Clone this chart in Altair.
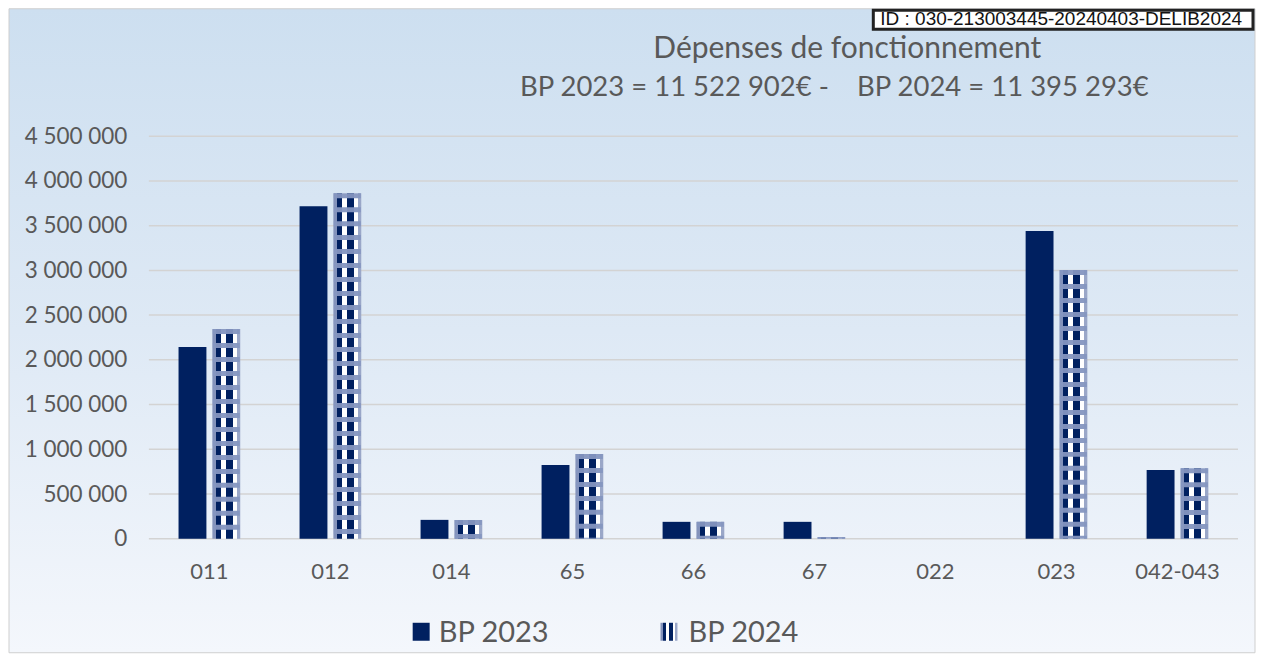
import altair as alt
import pandas as pd

# ---------------- data ----------------
categories = ["011", "012", "014", "65", "66", "67", "022", "023", "042-043"]
bp2023 = [2145000, 3718000, 212000, 826000, 190000, 190000, 0, 3439000, 770000]
bp2024 = [2345000, 3863000, 210000, 949000, 190000, 20000, 0, 3004000, 790000]
series = ["BP 2023", "BP 2024"]
y_ticks = [0, 500000, 1000000, 1500000, 2000000, 2500000, 3000000, 3500000, 4000000, 4500000]
title_line1 = "Dépenses de fonctionnement"
title_line2 = "BP 2023 = 11 522 902€ -\u00a0\u00a0\u00a0 BP 2024 = 11 395 293€"
stamp_text = "ID : 030-213003445-20240403-DELIB2024_30"

rows = []
for c, a, b in zip(categories, bp2023, bp2024):
    rows.append({"cat": c, "series": series[0], "value": a})
    rows.append({"cat": c, "series": series[1], "value": b})
df = pd.DataFrame(rows)
ticks_df = pd.DataFrame({"value": y_ticks})
one = pd.DataFrame({"k": [0]})

# ---------------- styles ----------------
W, H = 1090, 403
NAVY = "#002060"
GREY = "#595959"
FONT = "Lato"

pattern = alt.LinearGradient(
    gradient="linear", x1=0, x2=1, y1=0, y2=0,
    stops=[
        alt.GradientStop(offset=0, color="#8493bb"),
        alt.GradientStop(offset=0.12, color="#8493bb"),
        alt.GradientStop(offset=0.12, color=NAVY),
        alt.GradientStop(offset=0.31, color=NAVY),
        alt.GradientStop(offset=0.31, color="#ffffff"),
        alt.GradientStop(offset=0.5, color="#ffffff"),
        alt.GradientStop(offset=0.5, color=NAVY),
        alt.GradientStop(offset=0.74, color=NAVY),
        alt.GradientStop(offset=0.74, color="#ffffff"),
        alt.GradientStop(offset=0.87, color="#ffffff"),
        alt.GradientStop(offset=0.87, color="#9aa7c8"),
        alt.GradientStop(offset=1, color="#9aa7c8"),
    ],
)

bg_grad = alt.LinearGradient(
    gradient="linear", x1=0, x2=0, y1=0, y2=1,
    stops=[
        alt.GradientStop(offset=0, color="#cddff0"),
        alt.GradientStop(offset=0.5, color="#dee9f5"),
        alt.GradientStop(offset=1, color="#f4f7fc"),
    ],
)

x_scale = alt.Scale(domain=categories, paddingInner=0.49, paddingOuter=0.245)
xo_scale = alt.Scale(domain=series, paddingInner=0.176, paddingOuter=0)
y_scale = alt.Scale(domain=[0, 4500000], nice=False, zero=True)

x_axis = alt.Axis(title=None, labelAngle=0, domain=False, ticks=False,
                  labelPadding=23, labelFontSize=22, labelColor=GREY,
                  labelFont=FONT, grid=False, zindex=2)
y_axis = alt.Axis(title=None, values=y_ticks, domain=False, ticks=False,
                  grid=False, labelPadding=22, labelFontSize=22.5,
                  labelColor=GREY, labelFont=FONT, zindex=2,
                  labelExpr="replace(replace(format(datum.value, ','), ',', ' '), ',', ' ')")

x_enc = alt.X("cat:N", scale=x_scale, sort=categories, axis=x_axis)
xo_enc = alt.XOffset("series:N", scale=xo_scale)
y_enc = alt.Y("value:Q", scale=y_scale, axis=y_axis)

# background panel
bg = alt.Chart(one).mark_rect(fill=bg_grad, stroke="#cfcfcf", strokeWidth=1).encode(
    x=alt.value(-140), x2=alt.value(1107), y=alt.value(-127.5), y2=alt.value(517)
)

# gridlines
grid = alt.Chart(ticks_df).mark_rule(color="#d3d3d3", strokeWidth=1.5).encode(
    y=y_enc, x=alt.value(0), x2=alt.value(W)
)

bars23 = alt.Chart(df).transform_filter(alt.datum.series == series[0]).mark_bar(
    fill=NAVY
).encode(x=x_enc, xOffset=xo_enc, y=y_enc)

bars24 = alt.Chart(df).transform_filter(alt.datum.series == series[1]).mark_bar(
    fill=pattern
).encode(x=x_enc, xOffset=xo_enc, y=y_enc)

bands24 = alt.Chart(df).transform_filter(
    (alt.datum.series == series[1]) & (alt.datum.value > 0)
).mark_rule(color="#8596c0", strokeWidth=27, strokeDash=[5, 9], opacity=0.95).encode(
    x=x_enc, xOffset=xo_enc, y=y_enc, y2=alt.datum(0)
)

t1 = alt.Chart(one).mark_text(text=title_line1, font=FONT, fontSize=30, color=GREY,
                              align="center", baseline="middle").encode(
    x=alt.value(699), y=alt.value(-87))
t2 = alt.Chart(one).mark_text(text=title_line2, font=FONT, fontSize=27.5, color=GREY,
                              align="center", baseline="middle").encode(
    x=alt.value(686), y=alt.value(-48))

# legend
leg_sq1 = alt.Chart(one).mark_rect(fill=NAVY).encode(
    x=alt.value(264), x2=alt.value(281), y=alt.value(487), y2=alt.value(505))
leg_sq2 = alt.Chart(one).mark_rect(fill=pattern).encode(
    x=alt.value(512), x2=alt.value(529), y=alt.value(487), y2=alt.value(505))
leg_t1 = alt.Chart(one).mark_text(text=series[0], font=FONT, fontSize=29, color=GREY,
                                  align="left", baseline="middle").encode(
    x=alt.value(290), y=alt.value(497))
leg_t2 = alt.Chart(one).mark_text(text=series[1], font=FONT, fontSize=29, color=GREY,
                                  align="left", baseline="middle").encode(
    x=alt.value(540), y=alt.value(497))

# stamp
stamp_box = alt.Chart(one).mark_rect(fill="white", stroke="#222222", strokeWidth=3).encode(
    x=alt.value(725), x2=alt.value(1105), y=alt.value(-126), y2=alt.value(-107))
stamp_t = alt.Chart(one).mark_text(text=stamp_text, font="Liberation Sans", fontSize=19,
                                   color="#111111", align="left", baseline="alphabetic",
                                   limit=372, ellipsis="\u200b").encode(
    x=alt.value(732), y=alt.value(-111))

chart = alt.layer(
    bg, grid, bars23, bars24, bands24, t1, t2,
    leg_sq1, leg_sq2, leg_t1, leg_t2, stamp_box, stamp_t
).properties(
    width=W, height=H, padding=0, background="white"
).configure_view(stroke=None)

chart.save("out.html", embed_options={"renderer": "svg", "actions": False})
